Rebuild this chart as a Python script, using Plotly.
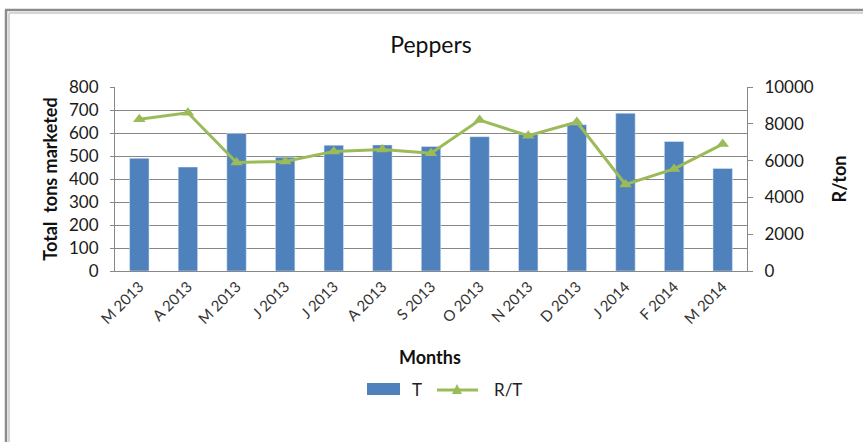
import plotly.graph_objects as go

months = ["M 2013", "A 2013", "M 2013", "J 2013", "J 2013", "A 2013", "S 2013",
          "O 2013", "N 2013", "D 2013", "J 2014", "F 2014", "M 2014"]
tons = [490, 452, 598, 495, 547, 548, 541, 584, 595, 636, 686, 563, 446]
rand_per_ton = [8250, 8600, 5900, 5950, 6500, 6600, 6400, 8200, 7350, 8100, 4700, 5550, 6900]

x_idx = list(range(len(months)))

FONT = "Lato"
BLUE = "#4F81BD"
GREEN = "#9BBB59"
L, R, T, B = 115, 116, 87, 171
W, H = 863, 442
pw, ph = W - L - R, H - T - B

def px(x):
    return (x - L) / pw

def py(y):
    return (H - B - y) / ph

fig = go.Figure()
fig.add_trace(go.Bar(x=x_idx, y=tons, name="T", marker_color=BLUE,
                     yaxis="y", showlegend=False))
fig.add_trace(go.Scatter(x=x_idx, y=rand_per_ton, name="R/T", yaxis="y2",
                         mode="lines+markers", showlegend=False,
                         line=dict(color=GREEN, width=3),
                         marker=dict(symbol="triangle-up", size=11, color=GREEN)))

fig.update_layout(
    width=W, height=H,
    margin=dict(l=L, r=R, t=T, b=B),
    paper_bgcolor="white", plot_bgcolor="white",
    bargap=0.6,
    font=dict(family=FONT, color="#222"),
    title=dict(text="Peppers", x=0.5, xref="paper", xanchor="center",
               y=1 - 45 / H, yanchor="middle",
               font=dict(family=FONT, size=23, color="#111")),
    xaxis=dict(tickmode="array", tickvals=x_idx, ticktext=months,
               tickangle=-45, range=[-0.5, len(months) - 0.5],
               tickfont=dict(family=FONT, size=15, color="#333"),
               showline=True, linecolor="#888", linewidth=1,
               showgrid=False, ticks=""),
    yaxis=dict(range=[0, 800], dtick=100, showgrid=True, gridcolor="#868686",
               gridwidth=1, showline=True, linecolor="#888", ticks="outside",
               ticklen=4, tickcolor="#888", ticklabelstandoff=8,
               tickfont=dict(family=FONT, size=17, color="#1a1a1a"),
               title=dict(text="<b>Total  tons marketed</b>", standoff=6,
                          font=dict(family=FONT, size=18, color="#111"))),
    yaxis2=dict(range=[0, 10000], dtick=2000, tickformat="d",
                overlaying="y", side="right",
                showgrid=False, showline=True, linecolor="#888",
                ticks="outside", ticklen=5, tickcolor="#888",
                ticklabelstandoff=8,
                tickfont=dict(family=FONT, size=17, color="#1a1a1a"),
                title=dict(text="<b>R/ton</b>", standoff=20,
                           font=dict(family=FONT, size=18, color="#111"))),
    annotations=[
        dict(text="<b>Months</b>", x=px(430), y=py(357),
             xref="paper", yref="paper", showarrow=False,
             xanchor="center", yanchor="middle",
             font=dict(family=FONT, size=18, color="#111")),
        dict(text="T", x=px(410), y=py(389), xref="paper", yref="paper",
             showarrow=False, xanchor="left", yanchor="middle",
             font=dict(family=FONT, size=17, color="#222")),
        dict(text="R/T", x=px(492), y=py(389), xref="paper", yref="paper",
             showarrow=False, xanchor="left", yanchor="middle",
             font=dict(family=FONT, size=17, color="#222")),
    ],
    shapes=[
        dict(type="line", xref="paper", yref="paper", x0=px(6), x1=px(6),
             y0=py(10), y1=py(445), line=dict(color="#8c8c8c", width=2.5)),
        dict(type="line", xref="paper", yref="paper", x0=px(5), x1=px(870),
             y0=py(10), y1=py(10), line=dict(color="#8c8c8c", width=2.5)),
        dict(type="line", xref="paper", yref="paper", x0=px(9), x1=px(9),
             y0=py(13), y1=py(445), line=dict(color="#c8c8c8", width=1.5)),
        dict(type="line", xref="paper", yref="paper", x0=px(9), x1=px(870),
             y0=py(13), y1=py(13), line=dict(color="#c8c8c8", width=1.5)),
        # legend keys
        dict(type="rect", xref="paper", yref="paper", x0=px(367), x1=px(400),
             y0=py(395), y1=py(383), fillcolor=BLUE, line=dict(width=0)),
        dict(type="line", xref="paper", yref="paper", x0=px(437), x1=px(478),
             y0=py(390), y1=py(390), line=dict(color=GREEN, width=3)),
        dict(type="path", xref="paper", yref="paper",
             path=f"M {px(452)} {py(394)} L {px(462)} {py(394)} L {px(457)} {py(384)} Z",
             fillcolor=GREEN, line=dict(width=0)),
    ],
)

fig.write_html("out.html")
